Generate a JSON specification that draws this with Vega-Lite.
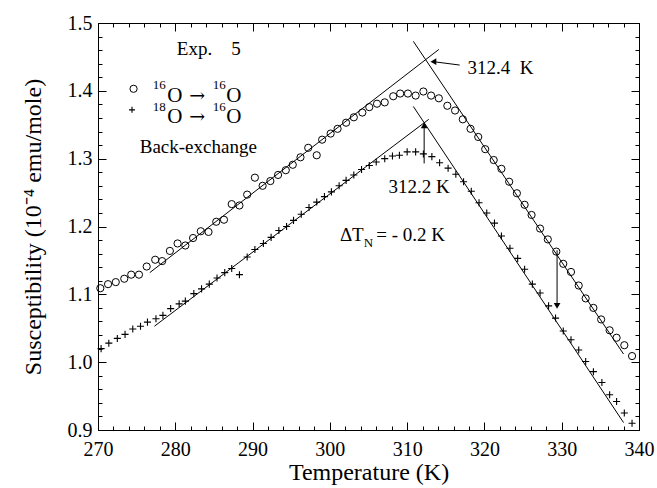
{
  "$schema": "https://vega.github.io/schema/vega-lite/v6.json",
  "width": 541,
  "height": 407,
  "autosize": {"type": "none"},
  "padding": {"left": 98, "top": 23, "right": 18, "bottom": 58},
  "background": "white",
  "config": {
    "font": "Liberation Serif",
    "view": {"stroke": "black", "strokeWidth": 1},
    "axis": {"labelFont": "Liberation Serif", "titleFont": "Liberation Serif", "labelColor": "black", "titleColor": "black", "domainColor": "black", "tickColor": "black", "grid": false, "titleFontWeight": "normal", "labelFontSize": 20, "titleFontSize": 24, "domainWidth": 1, "tickWidth": 1, "labelFlush": false, "labelOverlap": false}
  },
  "datasets": {
    "circles": [
      {"T": 270.3, "S": 1.109}, {"T": 271.3, "S": 1.115}, {"T": 272.3, "S": 1.118}, {"T": 273.4, "S": 1.123}, {"T": 274.3, "S": 1.129}, {"T": 275.3, "S": 1.129}, {"T": 276.3, "S": 1.141}, {"T": 277.4, "S": 1.151}, {"T": 278.3, "S": 1.149}, {"T": 279.3, "S": 1.164},
      {"T": 280.3, "S": 1.175}, {"T": 281.3, "S": 1.172}, {"T": 282.3, "S": 1.183}, {"T": 283.3, "S": 1.193}, {"T": 284.3, "S": 1.192}, {"T": 285.3, "S": 1.207}, {"T": 286.3, "S": 1.210}, {"T": 287.3, "S": 1.233}, {"T": 288.3, "S": 1.231}, {"T": 289.3, "S": 1.247},
      {"T": 290.3, "S": 1.272}, {"T": 291.3, "S": 1.260}, {"T": 292.3, "S": 1.267}, {"T": 293.3, "S": 1.276}, {"T": 294.3, "S": 1.283}, {"T": 295.2, "S": 1.291}, {"T": 296.2, "S": 1.302}, {"T": 297.2, "S": 1.316}, {"T": 298.3, "S": 1.305}, {"T": 299.0, "S": 1.328},
      {"T": 300.1, "S": 1.337}, {"T": 301.0, "S": 1.344}, {"T": 302.1, "S": 1.353}, {"T": 303.1, "S": 1.361}, {"T": 304.2, "S": 1.368}, {"T": 305.1, "S": 1.376}, {"T": 306.1, "S": 1.381}, {"T": 307.1, "S": 1.383}, {"T": 308.2, "S": 1.392}, {"T": 309.1, "S": 1.396},
      {"T": 310.1, "S": 1.396}, {"T": 311.1, "S": 1.393}, {"T": 312.1, "S": 1.399}, {"T": 313.1, "S": 1.393}, {"T": 314.1, "S": 1.389}, {"T": 315.2, "S": 1.378}, {"T": 316.2, "S": 1.371}, {"T": 317.2, "S": 1.358}, {"T": 318.2, "S": 1.344}, {"T": 319.2, "S": 1.332},
      {"T": 320.1, "S": 1.314}, {"T": 321.2, "S": 1.298}, {"T": 322.2, "S": 1.285}, {"T": 323.2, "S": 1.266}, {"T": 324.2, "S": 1.249}, {"T": 325.2, "S": 1.232}, {"T": 326.1, "S": 1.217}, {"T": 327.2, "S": 1.197}, {"T": 328.2, "S": 1.181}, {"T": 329.3, "S": 1.163},
      {"T": 330.2, "S": 1.145}, {"T": 331.2, "S": 1.133}, {"T": 332.2, "S": 1.113}, {"T": 333.1, "S": 1.094}, {"T": 334.1, "S": 1.080}, {"T": 335.1, "S": 1.063}, {"T": 336.2, "S": 1.047}, {"T": 337.1, "S": 1.036}, {"T": 338.1, "S": 1.025}, {"T": 339.1, "S": 1.009}
    ],
    "crosses": [
      {"T": 270.4, "S": 1.020}, {"T": 271.4, "S": 1.028}, {"T": 272.5, "S": 1.035}, {"T": 273.5, "S": 1.041}, {"T": 274.5, "S": 1.049}, {"T": 275.5, "S": 1.053}, {"T": 276.4, "S": 1.059}, {"T": 277.5, "S": 1.064}, {"T": 278.4, "S": 1.069}, {"T": 279.4, "S": 1.079},
      {"T": 280.5, "S": 1.086}, {"T": 281.3, "S": 1.090}, {"T": 282.4, "S": 1.101}, {"T": 283.4, "S": 1.108}, {"T": 284.4, "S": 1.115}, {"T": 285.4, "S": 1.124}, {"T": 286.4, "S": 1.132}, {"T": 287.3, "S": 1.138}, {"T": 288.3, "S": 1.129}, {"T": 289.3, "S": 1.155},
      {"T": 290.3, "S": 1.166}, {"T": 291.4, "S": 1.175}, {"T": 292.4, "S": 1.184}, {"T": 293.4, "S": 1.194}, {"T": 294.4, "S": 1.200}, {"T": 295.3, "S": 1.209}, {"T": 296.3, "S": 1.218}, {"T": 297.3, "S": 1.228}, {"T": 298.3, "S": 1.236}, {"T": 299.3, "S": 1.244},
      {"T": 300.2, "S": 1.251}, {"T": 301.2, "S": 1.260}, {"T": 302.1, "S": 1.268}, {"T": 303.1, "S": 1.276}, {"T": 304.1, "S": 1.284}, {"T": 305.1, "S": 1.290}, {"T": 306.0, "S": 1.295}, {"T": 307.1, "S": 1.300}, {"T": 308.1, "S": 1.304}, {"T": 309.0, "S": 1.305},
      {"T": 310.0, "S": 1.310}, {"T": 311.1, "S": 1.310}, {"T": 312.1, "S": 1.307}, {"T": 313.2, "S": 1.303}, {"T": 314.2, "S": 1.294}, {"T": 315.3, "S": 1.286}, {"T": 316.3, "S": 1.277}, {"T": 317.3, "S": 1.266}, {"T": 318.3, "S": 1.252}, {"T": 319.3, "S": 1.235},
      {"T": 320.3, "S": 1.220}, {"T": 321.3, "S": 1.205}, {"T": 322.2, "S": 1.186}, {"T": 323.3, "S": 1.168}, {"T": 324.3, "S": 1.153}, {"T": 325.2, "S": 1.137}, {"T": 326.2, "S": 1.115}, {"T": 327.2, "S": 1.102}, {"T": 328.3, "S": 1.083}, {"T": 329.2, "S": 1.065},
      {"T": 330.2, "S": 1.046}, {"T": 331.2, "S": 1.033}, {"T": 332.2, "S": 1.018}, {"T": 333.1, "S": 1.001}, {"T": 334.1, "S": 0.986}, {"T": 335.2, "S": 0.970}, {"T": 336.2, "S": 0.952}, {"T": 337.1, "S": 0.942}, {"T": 338.1, "S": 0.925}, {"T": 339.1, "S": 0.910}
    ],
    "fits": [
      {"line": "16O low", "T": 276.7, "S": 1.132}, {"line": "16O low", "T": 314.1, "S": 1.461},
      {"line": "16O high", "T": 310.8, "S": 1.473}, {"line": "16O high", "T": 338.0, "S": 1.012},
      {"line": "18O low", "T": 277.3, "S": 1.053}, {"line": "18O low", "T": 312.8, "S": 1.358},
      {"line": "18O high", "T": 310.8, "S": 1.377}, {"line": "18O high", "T": 338.0, "S": 0.911}
    ],
    "arrows": [
      {"T": 316.8, "S": 1.438, "T2": 313.4, "S2": 1.443},
      {"T": 312.2, "S": 1.293, "T2": 312.2, "S2": 1.349},
      {"T": 329.4, "S": 1.165, "T2": 329.4, "S2": 1.083}
    ],
    "heads": [
      {"T": 313.4, "S": 1.443, "dir": "left"},
      {"T": 312.2, "S": 1.349, "dir": "up"},
      {"T": 329.4, "S": 1.083, "dir": "down"}
    ],
    "legendCircle": [{"T": 274.6, "S": 1.403}],
    "legendPlus": [{"T": 274.4, "S": 1.372}],
    "labels": [
      {"T": 317.8, "S": 1.433, "text": "312.4\u00a0\u00a0K"},
      {"T": 307.6, "S": 1.258, "text": "312.2 K"},
      {"T": 301.3, "S": 1.187, "text": "ΔT"},
      {"T": 306.0, "S": 1.187, "text": "= - 0.2 K"},
      {"T": 280.2, "S": 1.462, "text": "Exp.\u00a0\u00a0\u00a0\u00a05"},
      {"T": 275.4, "S": 1.317, "text": "Back-exchange"}
    ],
    "bigO": [
      {"T": 278.95, "S": 1.393, "text": "O"},
      {"T": 286.6, "S": 1.393, "text": "O"},
      {"T": 278.95, "S": 1.361, "text": "O"},
      {"T": 286.6, "S": 1.361, "text": "O"}
    ],
    "legendArrows": [
      {"T": 281.8, "S": 1.393, "text": "→"},
      {"T": 281.8, "S": 1.361, "text": "→"}
    ],
    "sups": [
      {"T": 277.1, "S": 1.408, "text": "16"},
      {"T": 284.85, "S": 1.408, "text": "16"},
      {"T": 277.1, "S": 1.376, "text": "18"},
      {"T": 284.85, "S": 1.376, "text": "16"}
    ],
    "subs": [{"T": 304.4, "S": 1.175, "text": "N"}]
  },
  "resolve": {"axis": {"x": "independent", "y": "independent"}},
  "layer": [
    {
      "data": {"name": "circles"},
      "mark": {"type": "point", "shape": "circle", "filled": false, "stroke": "black", "strokeWidth": 1, "size": 52, "opacity": 1},
      "encoding": {
        "x": {"field": "T", "type": "quantitative", "scale": {"domain": [270, 340], "nice": false, "zero": false},
              "axis": {"orient": "bottom", "values": [270, 280, 290, 300, 310, 320, 330, 340], "tickSize": -8, "labelPadding": 17, "title": "Temperature (K)", "titlePadding": 1}},
        "y": {"field": "S", "type": "quantitative", "scale": {"domain": [0.9, 1.5], "nice": false, "zero": false},
              "axis": {"orient": "left", "values": [0.9, 1.0, 1.1, 1.2, 1.3, 1.4, 1.5], "format": ".1f", "tickSize": -8, "labelPadding": 14, "title": "Susceptibility (10⁻⁴ emu/mole)", "titlePadding": 22}}
      }
    },
    {
      "data": {"name": "crosses"},
      "mark": {"type": "point", "shape": "M-1,0H1M0,-1V1", "filled": false, "stroke": "black", "strokeWidth": 1.1, "size": 50, "opacity": 1},
      "encoding": {
        "x": {"field": "T", "type": "quantitative", "scale": {"domain": [270, 340], "nice": false, "zero": false},
              "axis": {"orient": "bottom", "values": [272, 274, 276, 278, 282, 284, 286, 288, 292, 294, 296, 298, 302, 304, 306, 308, 312, 314, 316, 318, 322, 324, 326, 328, 332, 334, 336, 338], "tickSize": -4, "labels": false, "title": null, "domain": false}},
        "y": {"field": "S", "type": "quantitative", "scale": {"domain": [0.9, 1.5], "nice": false, "zero": false},
              "axis": {"orient": "left", "values": [0.92, 0.94, 0.96, 0.98, 1.02, 1.04, 1.06, 1.08, 1.12, 1.14, 1.16, 1.18, 1.22, 1.24, 1.26, 1.28, 1.32, 1.34, 1.36, 1.38, 1.42, 1.44, 1.46, 1.48], "tickSize": -4, "labels": false, "title": null, "domain": false}}
      }
    },
    {
      "data": {"name": "fits"},
      "mark": {"type": "line", "stroke": "black", "strokeWidth": 1},
      "encoding": {
        "x": {"field": "T", "type": "quantitative", "scale": {"domain": [270, 340], "nice": false, "zero": false},
              "axis": {"orient": "top", "values": [270, 280, 290, 300, 310, 320, 330, 340], "tickSize": -8, "labels": false, "title": null}},
        "y": {"field": "S", "type": "quantitative", "scale": {"domain": [0.9, 1.5], "nice": false, "zero": false},
              "axis": {"orient": "right", "values": [0.9, 1.0, 1.1, 1.2, 1.3, 1.4, 1.5], "tickSize": -8, "labels": false, "title": null}},
        "detail": {"field": "line", "type": "nominal"}
      }
    },
    {
      "data": {"name": "arrows"},
      "mark": {"type": "rule", "stroke": "black", "strokeWidth": 1},
      "encoding": {
        "x": {"field": "T", "type": "quantitative", "scale": {"domain": [270, 340], "nice": false, "zero": false},
              "axis": {"orient": "top", "values": [272, 274, 276, 278, 282, 284, 286, 288, 292, 294, 296, 298, 302, 304, 306, 308, 312, 314, 316, 318, 322, 324, 326, 328, 332, 334, 336, 338], "tickSize": -4, "labels": false, "title": null, "domain": false}},
        "x2": {"field": "T2"},
        "y": {"field": "S", "type": "quantitative", "scale": {"domain": [0.9, 1.5], "nice": false, "zero": false},
              "axis": {"orient": "right", "values": [0.92, 0.94, 0.96, 0.98, 1.02, 1.04, 1.06, 1.08, 1.12, 1.14, 1.16, 1.18, 1.22, 1.24, 1.26, 1.28, 1.32, 1.34, 1.36, 1.38, 1.42, 1.44, 1.46, 1.48], "tickSize": -4, "labels": false, "title": null, "domain": false}},
        "y2": {"field": "S2"}
      }
    },
    {
      "data": {"name": "heads"},
      "mark": {"type": "point", "filled": true, "fill": "black", "stroke": null, "size": 45, "opacity": 1},
      "encoding": {
        "x": {"field": "T", "type": "quantitative", "axis": null},
        "y": {"field": "S", "type": "quantitative", "axis": null},
        "shape": {"field": "dir", "type": "nominal", "scale": {"domain": ["left", "up", "down"], "range": ["triangle-left", "triangle-up", "triangle-down"]}, "legend": null}
      }
    },
    {
      "data": {"name": "legendCircle"},
      "mark": {"type": "point", "shape": "circle", "filled": false, "stroke": "black", "strokeWidth": 1, "size": 52, "opacity": 1},
      "encoding": {
        "x": {"field": "T", "type": "quantitative", "axis": null},
        "y": {"field": "S", "type": "quantitative", "axis": null}
      }
    },
    {
      "data": {"name": "legendPlus"},
      "mark": {"type": "point", "shape": "M-1,0H1M0,-1V1", "filled": false, "stroke": "black", "strokeWidth": 1.1, "size": 36, "opacity": 1},
      "encoding": {
        "x": {"field": "T", "type": "quantitative", "axis": null},
        "y": {"field": "S", "type": "quantitative", "axis": null}
      }
    },
    {
      "data": {"name": "labels"},
      "mark": {"type": "text", "align": "left", "baseline": "middle", "font": "Liberation Serif", "fontSize": 19, "color": "black"},
      "encoding": {
        "x": {"field": "T", "type": "quantitative", "axis": null},
        "y": {"field": "S", "type": "quantitative", "axis": null},
        "text": {"field": "text"}
      }
    },
    {
      "data": {"name": "bigO"},
      "mark": {"type": "text", "align": "left", "baseline": "middle", "font": "Liberation Serif", "fontSize": 21, "color": "black"},
      "encoding": {
        "x": {"field": "T", "type": "quantitative", "axis": null},
        "y": {"field": "S", "type": "quantitative", "axis": null},
        "text": {"field": "text"}
      }
    },
    {
      "data": {"name": "legendArrows"},
      "mark": {"type": "text", "align": "left", "baseline": "middle", "font": "DejaVu Serif", "fontSize": 19, "color": "black"},
      "encoding": {
        "x": {"field": "T", "type": "quantitative", "axis": null},
        "y": {"field": "S", "type": "quantitative", "axis": null},
        "text": {"field": "text"}
      }
    },
    {
      "data": {"name": "sups"},
      "mark": {"type": "text", "align": "left", "baseline": "middle", "font": "Liberation Serif", "fontSize": 13, "color": "black"},
      "encoding": {
        "x": {"field": "T", "type": "quantitative", "axis": null},
        "y": {"field": "S", "type": "quantitative", "axis": null},
        "text": {"field": "text"}
      }
    },
    {
      "data": {"name": "subs"},
      "mark": {"type": "text", "align": "left", "baseline": "middle", "font": "Liberation Serif", "fontSize": 13, "color": "black"},
      "encoding": {
        "x": {"field": "T", "type": "quantitative", "axis": null},
        "y": {"field": "S", "type": "quantitative", "axis": null},
        "text": {"field": "text"}
      }
    }
  ]
}
